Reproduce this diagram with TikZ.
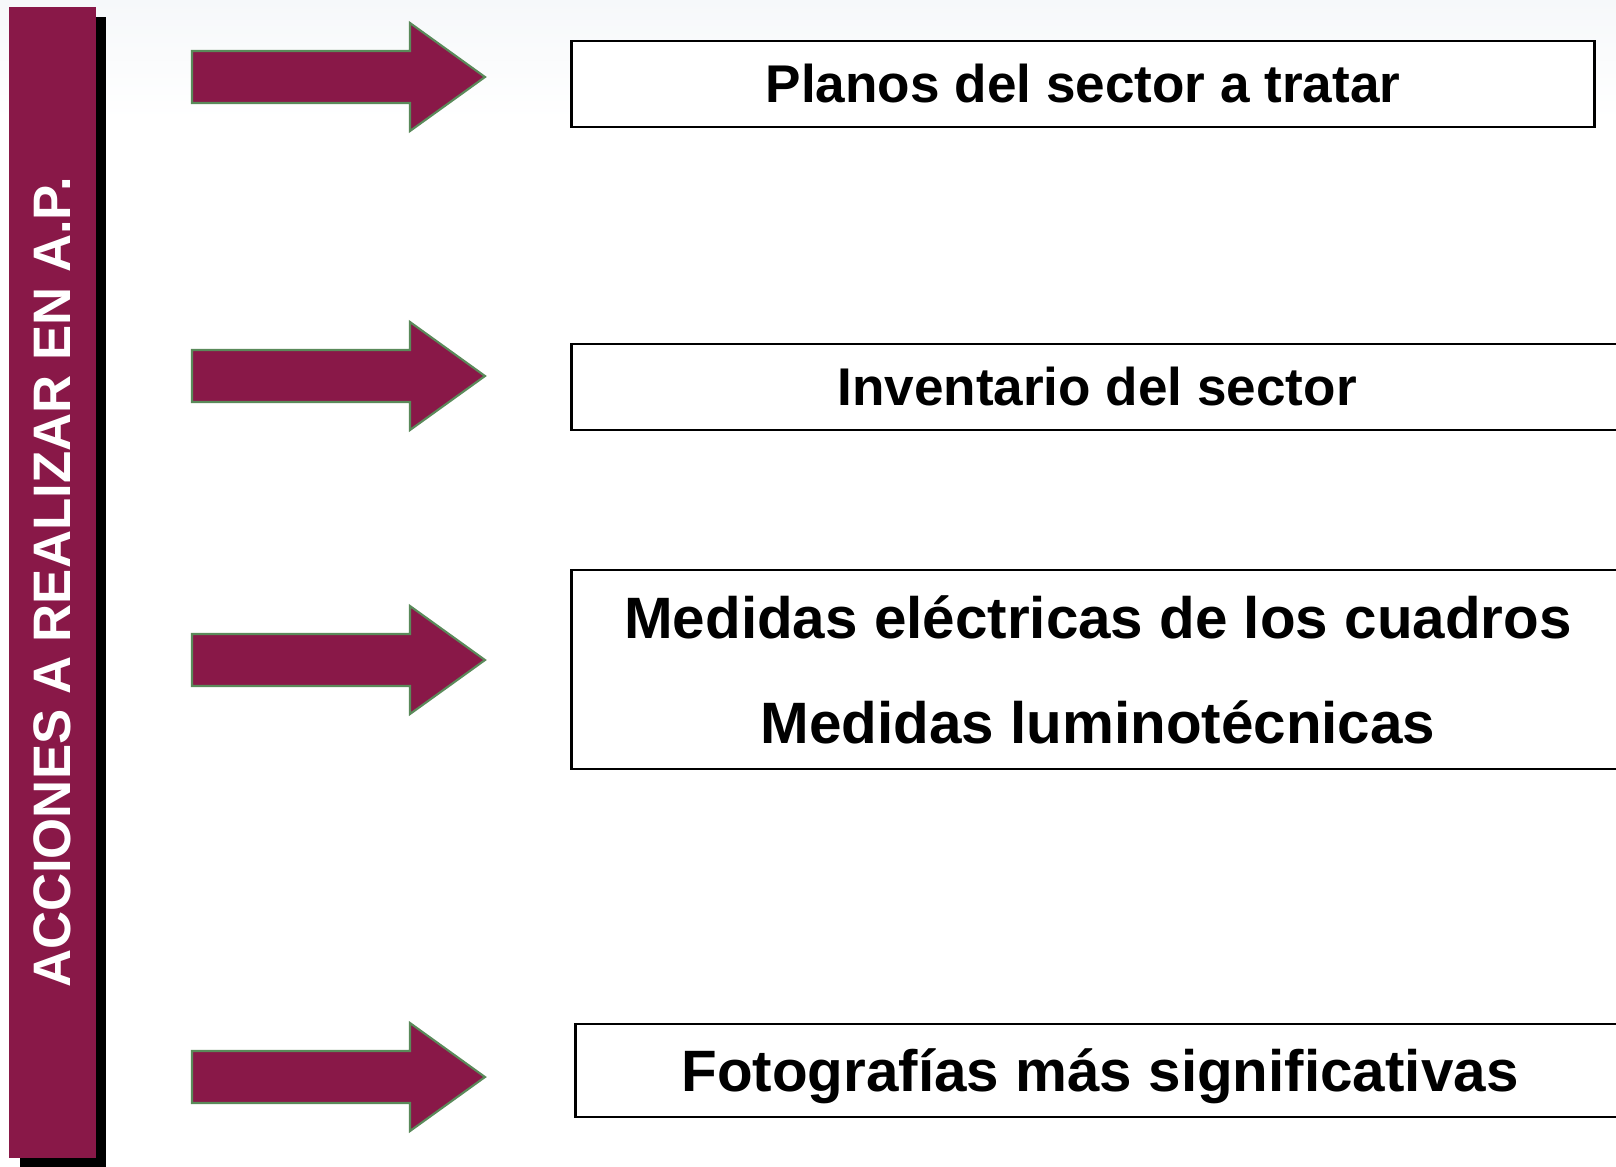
\documentclass[tikz,border=0pt]{standalone}
\usepackage{fontspec}
\setmainfont{Liberation Sans}
\definecolor{vino}{RGB}{137,24,72}
\definecolor{verde}{RGB}{90,138,90}
\definecolor{niebla}{RGB}{246,248,250}
\begin{document}
\begin{tikzpicture}[x = 0.01cm, y = -0.01cm,
caja/.style = {draw, line width=0.7pt, fill=white, inner sep=0pt, font=\fontsize{15.1}{18}\selectfont\bfseries},
grande/.style = {font=\fontsize{16.6}{29.9}\selectfont\bfseries},
flecha/.style = {fill=vino, draw=verde, line width=0.6pt},]

\clip (0,0) rectangle (1616,1166);
\shade[top color=niebla, bottom color=white] (0,0) rectangle (1616,120);

\fill[black] (20,17) rectangle (106,1170);
\node[fill=vino, minimum width=0.87cm, minimum height=11.51cm, inner sep=0pt] (barra) at (52.5,582.5) {};
\node[rotate=90, text=white, font=\fontsize{15}{18}\selectfont\bfseries] (titulo) at (barra) {ACCIONES A REALIZAR EN A.P.};

\foreach \y in {77,376,660,1077}
  \draw[flecha] (192,\y-26) -- (410,\y-26) -- (410,\y-54) -- (485,\y) -- (410,\y+54) -- (410,\y+26) -- (192,\y+26) -- cycle;

\node[caja, minimum width=10.22cm, minimum height=0.86cm] (P) at (1083,84) {Planos del sector a tratar};
\node[caja, minimum width=10.5cm, minimum height=0.86cm] (I) at (1097,387) {Inventario del sector};
\node[caja, grande, align=center, minimum width=10.52cm, minimum height=1.99cm] (M) at (1098,669.5) {Medidas eléctricas de los cuadros\\Medidas luminotécnicas};
\node[caja, grande, text depth=0pt, minimum width=10.48cm, minimum height=0.93cm] (F) at (1100,1070.5) {Fotografías más significativas};

\end{tikzpicture}
\end{document}
